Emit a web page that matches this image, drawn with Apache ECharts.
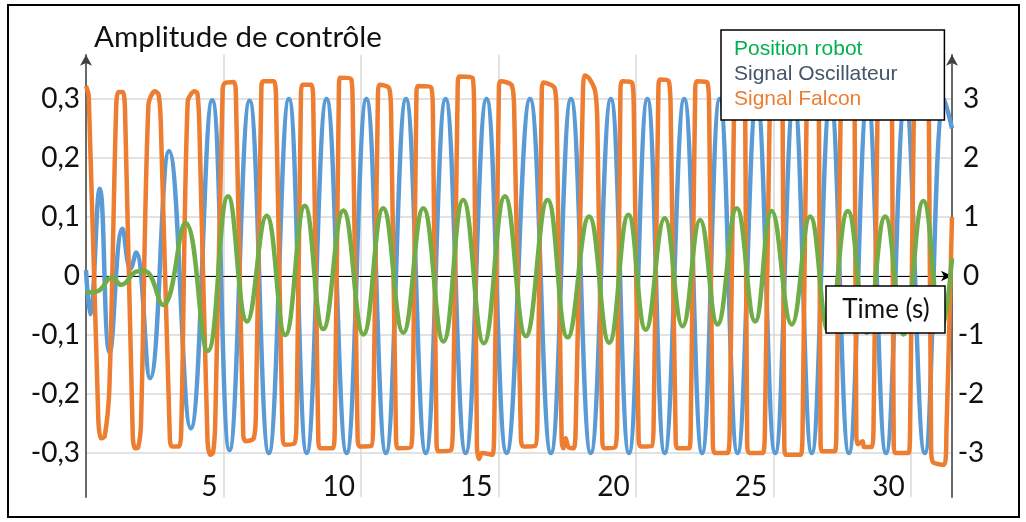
<!DOCTYPE html>
<html><head><meta charset="utf-8">
<script src="https://cdn.jsdelivr.net/npm/echarts@6/dist/echarts.min.js"></script>
<style>html,body{margin:0;padding:0;background:#fff}#c{width:1026px;height:522px}</style>
</head><body><div id="c"></div>
<script>
// ---- data (time s, value) ----
const oscillateur = [
  [0.00, 0.010], [0.15, -0.065], [0.50, 0.148], [0.86, -0.130], [1.33, 0.080],
  [1.62, 0.012], [1.82, 0.040], [2.33, -0.173], [3.02, 0.212], [3.81, -0.258],
  [4.59, 0.298], [5.22, -0.295], [5.95, 0.297], [6.65, -0.300], [7.38, 0.300],
  [8.03, -0.300], [8.75, 0.300], [9.48, -0.300], [10.20, 0.300], [10.91, -0.300],
  [11.64, 0.300], [12.36, -0.300], [13.08, 0.300], [13.81, -0.300], [14.57, 0.300],
  [15.30, -0.300], [16.15, 0.300], [16.91, -0.300], [17.64, 0.300], [18.36, -0.300],
  [19.09, 0.300], [19.75, -0.300], [20.42, 0.300], [21.05, -0.300], [21.76, 0.300],
  [22.41, -0.300], [23.05, 0.300], [23.70, -0.300], [24.40, 0.300], [25.07, -0.300],
  [25.75, 0.300], [26.40, -0.300], [27.08, 0.300], [27.75, -0.300], [28.43, 0.300],
  [29.10, -0.300], [29.80, 0.300], [30.51, -0.300], [31.22, 0.300], [31.50, 0.250]
];
const falcon = [
  [0.00, 3.22], [0.10, 3.05], [0.45, -2.45], [0.55, -2.75], [0.68, -2.72], [0.85, -1.90],
  [1.10, 2.90], [1.18, 3.12], [1.34, 3.12], [1.42, 2.80], [1.70, -2.70], [1.78, -2.92],
  [1.90, -2.90], [2.00, -2.50], [2.27, 2.90], [2.50, 3.13], [2.64, 3.08], [2.72, 2.60],
  [3.05, -2.75], [3.12, -2.89], [3.38, -2.89], [3.47, -2.50], [3.70, 2.96], [3.95, 3.13],
  [4.05, 3.10], [4.12, 2.60], [4.42, -2.80], [4.52, -3.03], [4.62, -3.00], [4.70, -2.50],
  [4.97, 3.15], [5.05, 3.27], [5.38, 3.29], [5.46, 2.90], [5.72, -2.70], [5.80, -2.80],
  [6.10, -2.75], [6.18, -2.30], [6.38, 3.20], [6.45, 3.30], [6.84, 3.30], [6.92, 2.80],
  [7.15, -2.70], [7.22, -2.86], [7.58, -2.84], [7.66, -2.40], [7.82, 3.10], [7.88, 3.24],
  [8.20, 3.24], [8.27, 2.80], [8.45, -2.80], [8.52, -2.92], [8.98, -2.92], [9.05, -2.50],
  [9.20, 3.20], [9.25, 3.36], [9.64, 3.34], [9.70, 2.90], [9.88, -2.75], [9.95, -2.89],
  [10.38, -2.88], [10.45, -2.40], [10.62, 3.10], [10.68, 3.24], [11.03, 3.18], [11.10, 2.70],
  [11.28, -2.80], [11.35, -2.92], [11.82, -2.90], [11.88, -2.40], [12.02, 3.10], [12.08, 3.22],
  [12.55, 3.20], [12.62, 2.70], [12.75, -2.80], [12.82, -2.97], [13.28, -2.95], [13.35, -2.40],
  [13.52, 3.20], [13.58, 3.38], [14.06, 3.36], [14.12, 2.70], [14.22, -2.90], [14.30, -3.10],
  [14.40, -3.00], [14.78, -3.03], [14.85, -2.50], [15.02, 3.20], [15.08, 3.30], [15.50, 3.22],
  [15.58, 2.70], [15.82, -2.75], [15.90, -2.89], [16.34, -2.88], [16.42, -2.40], [16.58, 3.15],
  [16.64, 3.28], [17.05, 3.18], [17.12, 2.70], [17.30, -2.75], [17.36, -2.92], [17.45, -2.75],
  [17.55, -2.90], [17.74, -2.92], [17.82, -2.40], [18.08, 3.20], [18.14, 3.40], [18.30, 3.35],
  [18.52, 3.13], [18.60, 2.60], [18.78, -2.80], [18.85, -2.92], [19.25, -2.90], [19.32, -2.40],
  [19.44, 3.15], [19.50, 3.30], [19.86, 3.28], [19.93, 2.70], [20.10, -2.75], [20.17, -2.89],
  [20.58, -2.88], [20.65, -2.40], [20.82, 3.15], [20.88, 3.33], [21.20, 3.30], [21.27, 2.70],
  [21.45, -2.80], [21.52, -2.92], [21.94, -2.92], [22.00, -2.40], [22.16, 3.15], [22.22, 3.30],
  [22.60, 3.28], [22.67, 2.70], [22.80, -2.85], [22.88, -3.00], [23.34, -3.00], [23.42, -2.40],
  [23.58, 3.10], [23.64, 3.20], [23.92, 3.20], [23.98, 2.60], [24.05, -2.85], [24.12, -3.00],
  [24.62, -3.00], [24.70, -2.40], [24.88, 3.10], [24.94, 3.20], [25.28, 3.20], [25.34, 2.60],
  [25.40, -2.85], [25.46, -3.03], [26.00, -3.03], [26.07, -2.40], [26.22, 3.10], [26.28, 3.20],
  [26.60, 3.20], [26.66, 2.60], [26.72, -2.85], [26.78, -2.97], [27.24, -2.97], [27.30, -2.40],
  [27.46, 3.10], [27.52, 3.20], [27.90, 3.20], [27.96, 2.60], [28.02, -2.70], [28.08, -2.85],
  [28.25, -2.80], [28.30, -2.90], [28.58, -2.90], [28.65, -2.40], [28.80, 3.10], [28.86, 3.20],
  [29.26, 3.20], [29.32, 2.60], [29.38, -2.85], [29.44, -3.00], [29.92, -3.00], [29.98, -2.40],
  [30.12, 3.10], [30.18, 3.20], [30.60, 3.20], [30.66, 2.60], [30.74, -2.90], [30.80, -3.15],
  [31.22, -3.20], [31.30, -2.60], [31.50, 1.00]
];
const position = [
  [0.00, -0.028], [0.41, -0.026], [0.96, -0.002], [1.28, -0.015], [1.90, 0.008],
  [2.15, 0.008], [2.80, -0.049], [3.62, 0.090], [4.43, -0.127], [5.17, 0.135],
  [5.86, -0.077], [6.57, 0.102], [7.25, -0.100], [7.96, 0.119], [8.63, -0.090],
  [9.36, 0.111], [10.09, -0.099], [10.81, 0.115], [11.54, -0.096], [12.27, 0.115],
  [13.00, -0.111], [13.72, 0.129], [14.47, -0.114], [15.24, 0.135], [16.00, -0.102],
  [16.79, 0.129], [17.52, -0.104], [18.30, 0.101], [19.03, -0.113], [19.73, 0.104],
  [20.36, -0.091], [21.05, 0.098], [21.70, -0.085], [22.34, 0.095], [22.97, -0.082],
  [23.67, 0.115], [24.34, -0.077], [24.94, 0.110], [25.67, -0.082], [26.34, 0.101],
  [27.01, -0.094], [27.71, 0.110], [28.40, -0.096], [29.07, 0.101], [29.74, -0.099],
  [30.46, 0.127], [31.12, -0.090], [31.50, 0.030]
];
const seriesNames = ['Position robot', 'Signal Oscillateur', 'Signal Falcon'];
const xTickLabels = [5, 10, 15, 20, 25, 30];
const leftTicks = [-0.3, -0.2, -0.1, 0, 0.1, 0.2, 0.3];
const rightTicks = [-3, -2, -1, 0, 1, 2, 3];

const LBL = 'Lato';
const chart = echarts.init(document.getElementById('c'), null, {renderer: 'canvas'});
const option = {
  animation: false,
  backgroundColor: '#fff',
  grid: [
    {left: 86, right: 74, top: 54.75, bottom: 24.75},
    {left: 86, right: 74, top: 99, bottom: 69}
  ],
  xAxis: [
    {gridIndex: 0, type: 'value', min: 0, max: 31.5, interval: 5, position: 'bottom',
     axisLine: {show: false}, axisTick: {show: false},
     splitLine: {show: true, lineStyle: {color: '#d9d9d9', width: 1.5}},
     axisLabel: {formatter: v => (xTickLabels.indexOf(v) >= 0 ? String(v) : ''),
       align: 'right', verticalAlign: 'middle', padding: [0, 6, 0, 0], margin: -10,
       fontFamily: LBL, fontSize: 28, color: '#111'}},
    {gridIndex: 1, type: 'value', min: 0, max: 31.5, position: 'bottom',
     axisLine: {show: true, onZero: true, symbol: ['none', 'arrow'], symbolSize: [8, 11],
       lineStyle: {color: '#000', width: 1.2}},
     axisTick: {show: false}, axisLabel: {show: false}, splitLine: {show: false}}
  ],
  yAxis: [
    {gridIndex: 0, type: 'value', min: -0.375, max: 0.375, position: 'left',
     axisLine: {show: true, symbol: ['none', 'arrow'], symbolSize: [9, 11],
       lineStyle: {color: '#404040', width: 1.5}},
     axisTick: {show: false}, axisLabel: {show: false}, splitLine: {show: false}},
    {gridIndex: 0, type: 'value', min: -3.75, max: 3.75, position: 'right',
     axisLine: {show: true, symbol: ['none', 'arrow'], symbolSize: [9, 11],
       lineStyle: {color: '#404040', width: 1.5}},
     axisTick: {show: false}, axisLabel: {show: false}, splitLine: {show: false}},
    {gridIndex: 1, type: 'value', min: -0.3, max: 0.3, interval: 0.1, position: 'left',
     axisLine: {show: false}, axisTick: {show: false},
     splitLine: {show: true, lineStyle: {color: '#d9d9d9', width: 1.5}},
     axisLabel: {margin: 6, fontFamily: LBL, fontSize: 28, color: '#111',
       formatter: v => {
         const r = Math.round(v * 10) / 10;
         return leftTicks.indexOf(r) >= 0 ? String(r).replace('.', ',') : '';
       }}},
    {gridIndex: 1, type: 'value', min: -3, max: 3, interval: 1, position: 'right',
     axisLine: {show: false}, axisTick: {show: false}, splitLine: {show: false},
     axisLabel: {margin: 19, align: 'center', fontFamily: LBL, fontSize: 28, color: '#111',
       formatter: v => (rightTicks.indexOf(Math.round(v)) >= 0 ? String(Math.round(v)) : '')}}
  ],
  legend: {
    orient: 'vertical', left: 721, top: 30, icon: 'none', itemWidth: 0, itemHeight: 14,
    itemGap: 0, selectedMode: false,
    padding: [7, 47, 8, 8], backgroundColor: '#fff', borderColor: '#000', borderWidth: 1.5,
    textStyle: {fontFamily: 'Liberation Sans', fontSize: 21, lineHeight: 25},
    data: [
      {name: seriesNames[0], textStyle: {color: '#00b050'}},
      {name: seriesNames[1], textStyle: {color: '#44546a'}},
      {name: seriesNames[2], textStyle: {color: '#ed7d31'}}
    ]
  },
  series: [
    {name: seriesNames[1], type: 'line', xAxisIndex: 0, yAxisIndex: 0, data: oscillateur,
     showSymbol: false, smooth: 0.45, z: 2, lineStyle: {color: '#5b9bd5', width: 4.5},
     itemStyle: {color: '#5b9bd5'}},
    {name: seriesNames[2], type: 'line', xAxisIndex: 0, yAxisIndex: 1, data: falcon,
     showSymbol: false, smooth: 0.3, z: 3, lineStyle: {color: '#ed7d31', width: 4.5},
     itemStyle: {color: '#ed7d31'}},
    {name: seriesNames[0], type: 'line', xAxisIndex: 0, yAxisIndex: 0, data: position,
     showSymbol: false, smooth: 0.45, z: 4, lineStyle: {color: '#70ad47', width: 4.5},
     itemStyle: {color: '#70ad47'}}
  ],
  graphic: [
    {type: 'rect', z: 100, silent: true, shape: {x: 8, y: 5, width: 1011, height: 512},
     style: {fill: 'none', stroke: '#000', lineWidth: 2}},
    {type: 'text', z: 100, silent: true,
     style: {x: 94, y: 37, text: 'Amplitude de contrôle', font: '29.5px Lato', fill: '#111',
       verticalAlign: 'middle'}},
    {type: 'group', z: 100, silent: true, children: [
      {type: 'rect', z: 100, shape: {x: 826, y: 286, width: 119, height: 47},
       style: {fill: '#fff', stroke: '#000', lineWidth: 1.5}},
      {type: 'text', z: 101, style: {x: 886, y: 310, text: 'Time (s)', font: '26px Lato',
       fill: '#111', align: 'center', verticalAlign: 'middle'}}
    ]}
  ]
};
chart.setOption(option);
</script></body></html>
